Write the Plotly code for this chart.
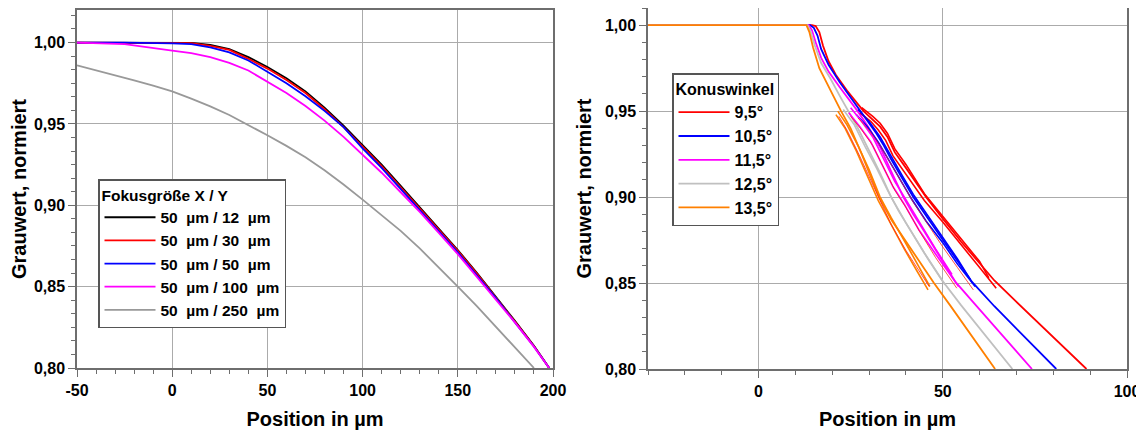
import plotly.graph_objects as go

# ---------------- Left chart data (Fokusgröße) ----------------
left_x = [-50, -25, 0, 10, 20, 30, 40, 50, 60, 70, 80, 90, 100, 110, 120, 130, 140, 150, 160, 170, 180, 190, 198]
y_12 = [1.000, 1.000, 1.000, 0.9998, 0.9985, 0.996, 0.991, 0.985, 0.978, 0.970, 0.960, 0.949, 0.937, 0.925, 0.912, 0.899, 0.886, 0.8725, 0.8585, 0.844, 0.829, 0.8137, 0.800]
y_30 = [1.000, 1.000, 1.000, 0.9997, 0.998, 0.9955, 0.990, 0.984, 0.977, 0.969, 0.959, 0.948, 0.936, 0.924, 0.911, 0.898, 0.885, 0.872, 0.858, 0.8435, 0.8285, 0.8135, 0.800]
y_50 = [1.000, 1.000, 0.9995, 0.999, 0.997, 0.994, 0.989, 0.982, 0.975, 0.967, 0.958, 0.948, 0.935, 0.923, 0.910, 0.897, 0.884, 0.871, 0.857, 0.843, 0.828, 0.8132, 0.800]
y_100 = [1.000, 0.999, 0.995, 0.9935, 0.991, 0.9875, 0.9828, 0.976, 0.969, 0.961, 0.952, 0.942, 0.931, 0.920, 0.908, 0.896, 0.883, 0.870, 0.856, 0.842, 0.828, 0.813, 0.800]
gray_x = [-50, -40, -30, -20, -10, 0, 10, 20, 30, 40, 50, 60, 70, 80, 90, 100, 110, 120, 130, 140, 150, 160, 170, 180, 190]
y_250 = [0.986, 0.983, 0.980, 0.9768, 0.9735, 0.970, 0.9655, 0.9608, 0.9555, 0.9495, 0.943, 0.9365, 0.9295, 0.9215, 0.9128, 0.9035, 0.894, 0.8843, 0.8735, 0.862, 0.850, 0.838, 0.8255, 0.813, 0.800]

left_names = ["50\u00a0\u00a0µm / 12\u00a0\u00a0µm", "50\u00a0\u00a0µm / 30\u00a0\u00a0µm", "50\u00a0\u00a0µm / 50\u00a0\u00a0µm",
              "50\u00a0\u00a0µm / 100\u00a0\u00a0µm", "50\u00a0\u00a0µm / 250\u00a0\u00a0µm"]
left_colors = ["#000000", "#ff0000", "#0000ff", "#ff00ff", "#999999"]

left_xticks = [-50, 0, 50, 100, 150, 200]
left_xlabels = ["-50", "0", "50", "100", "150", "200"]
yticks = [0.80, 0.85, 0.90, 0.95, 1.00]
ylabels = ["0,80", "0,85", "0,90", "0,95", "1,00"]

# ---------------- Right chart data (Konuswinkel) ----------------
r95_x = [-30, 12, 14.5, 15.5, 16.5, 17.5, 19, 21, 24, 28.5, 31, 33, 35, 37, 40, 45.5, 50, 55, 60, 64, 70, 75, 80, 85, 89]
r95_y = [1, 1, 1, 0.9995, 0.996, 0.988, 0.979, 0.971, 0.962, 0.950, 0.945, 0.941, 0.935, 0.926, 0.917, 0.900, 0.8875, 0.874, 0.8615, 0.8515, 0.839, 0.8287, 0.8184, 0.8082, 0.80]
r105_x = [-30, 12, 14, 15, 16, 17, 19, 22, 25, 27.6, 30, 32, 34, 36, 39, 42, 46, 50, 54, 58, 64, 70, 75, 80.8]
r105_y = [1, 1, 1, 0.9985, 0.994, 0.986, 0.977, 0.967, 0.958, 0.950, 0.943, 0.937, 0.930, 0.922, 0.911, 0.900, 0.8875, 0.875, 0.8625, 0.8505, 0.8365, 0.8235, 0.8125, 0.80]
r115_x = [-30, 12, 13.6, 14.5, 15.5, 17, 19, 22, 24.5, 26.9, 30, 33, 36, 39.3, 42, 45, 50, 53.5, 58, 64, 69, 74.2]
r115_y = [1, 1, 1, 0.997, 0.990, 0.981, 0.973, 0.964, 0.957, 0.950, 0.940, 0.929, 0.915, 0.900, 0.890, 0.880, 0.8625, 0.8505, 0.8395, 0.825, 0.8125, 0.80]
r125_x = [-30, 12, 13.3, 14.2, 15.3, 17, 19.5, 22, 24.4, 27, 30, 33, 36, 40, 45, 50, 55, 60, 64.5, 68.9]
r125_y = [1, 1, 1, 0.996, 0.988, 0.978, 0.969, 0.959, 0.950, 0.940, 0.927, 0.914, 0.900, 0.885, 0.8675, 0.851, 0.837, 0.8235, 0.8115, 0.80]
r135_x = [-30, 12, 13, 13.8, 14.8, 16.5, 18.5, 20.5, 22.4, 25, 28, 30.5, 32.7, 36, 40, 44, 47.6, 52, 56, 60, 64.2]
r135_y = [1, 1, 1, 0.996, 0.987, 0.975, 0.966, 0.958, 0.950, 0.940, 0.925, 0.912, 0.900, 0.887, 0.874, 0.861, 0.850, 0.837, 0.825, 0.8125, 0.80]

# replicate measurement bundles (mid range)
r95_b1_x = [28, 31, 33, 35, 37, 40, 45, 50, 55, 60, 62.5]
r95_b1_y = [0.952, 0.947, 0.943, 0.937, 0.928, 0.919, 0.902, 0.889, 0.876, 0.8625, 0.853]
r95_b2_x = [27.5, 30.5, 32.5, 34.5, 36.5, 39.5, 45, 50, 55, 60, 64.5]
r95_b2_y = [0.949, 0.944, 0.939, 0.933, 0.924, 0.915, 0.898, 0.8855, 0.8725, 0.859, 0.847]
r105_b1_x = [27, 30, 33, 36, 39, 42, 46, 50, 54, 57.5]
r105_b1_y = [0.951, 0.944, 0.935, 0.9235, 0.9125, 0.9015, 0.889, 0.8765, 0.864, 0.852]
r105_b2_x = [26.5, 29.5, 32.5, 35.5, 38.5, 41.5, 45.5, 50, 54, 58.8]
r105_b2_y = [0.948, 0.941, 0.932, 0.921, 0.910, 0.899, 0.886, 0.8735, 0.861, 0.848]
r115_b1_x = [25, 28, 31, 34, 37, 40, 44, 48, 52.5]
r115_b1_y = [0.952, 0.944, 0.935, 0.922, 0.909, 0.8985, 0.884, 0.870, 0.855]
r115_b2_x = [24.5, 27.5, 30.5, 33.5, 36.5, 39.5, 43.5, 48, 54.3]
r115_b2_y = [0.949, 0.941, 0.932, 0.919, 0.906, 0.896, 0.881, 0.867, 0.848]
r125_b1_x = [23, 26, 29, 32, 35, 38, 42, 46, 50.6]
r125_b1_y = [0.951, 0.942, 0.929, 0.917, 0.904, 0.892, 0.878, 0.864, 0.849]
r135_b1_x = [21.5, 24, 27, 30, 33, 36, 40, 43.5, 46.5]
r135_b1_y = [0.950, 0.942, 0.930, 0.916, 0.900, 0.888, 0.873, 0.860, 0.848]
r135_b2_x = [21, 23.5, 26.5, 29.5, 32.5, 35.5, 39.5, 43, 46]
r135_b2_y = [0.948, 0.940, 0.927, 0.913, 0.898, 0.886, 0.870, 0.857, 0.846]
# thin red fit lines over bundles
fit_o_x = [21.8, 24, 27, 30, 33, 36, 40, 43.5, 46.3]
fit_o_y = [0.947, 0.939, 0.926, 0.912, 0.897, 0.884, 0.869, 0.857, 0.848]
fit_m_x = [25, 28, 31, 34, 37, 40, 44, 48, 53.8]
fit_m_y = [0.947, 0.939, 0.930, 0.917, 0.904, 0.894, 0.879, 0.865, 0.847]
fit_b_x = [27, 30, 33, 36, 39, 42, 46, 50, 54, 58.3]
fit_b_y = [0.946, 0.939, 0.930, 0.919, 0.908, 0.897, 0.884, 0.871, 0.859, 0.846]

right_names = ["9,5°", "10,5°", "11,5°", "12,5°", "13,5°"]
right_colors = ["#ff0000", "#0000ff", "#ff00ff", "#c0c0c0", "#ff8000"]
right_xticks = [0, 50, 100]
right_xlabels = ["0", "50", "100"]

FONT = "Liberation Sans, Arial, sans-serif"
OFF = 8                      # default page margin of the html body
W, H = 1144 - OFF, 430 - OFF


def fx(px):
    return (px - OFF) / W


def fy(py):
    return 1 - (py - OFF) / H


fig = go.Figure()

for xs, ys, name, col in zip([left_x, left_x, left_x, left_x, gray_x],
                             [y_12, y_30, y_50, y_100, y_250], left_names, left_colors):
    fig.add_trace(go.Scatter(x=xs, y=ys, mode="lines", name=name, line=dict(color=col, width=1.8),
                             xaxis="x", yaxis="y", legend="legend"))

right_main = [(r95_x, r95_y), (r105_x, r105_y), (r115_x, r115_y), (r125_x, r125_y), (r135_x, r135_y)]
bundles = [
    (r95_b1_x, r95_b1_y, 0), (r95_b2_x, r95_b2_y, 0),
    (r105_b1_x, r105_b1_y, 1), (r105_b2_x, r105_b2_y, 1),
    (r115_b1_x, r115_b1_y, 2), (r115_b2_x, r115_b2_y, 2),
    (r125_b1_x, r125_b1_y, 3),
    (r135_b1_x, r135_b1_y, 4), (r135_b2_x, r135_b2_y, 4),
]
for (xs, ys), name, col in zip(right_main, right_names, right_colors):
    fig.add_trace(go.Scatter(x=xs, y=ys, mode="lines", name=name, line=dict(color=col, width=1.8),
                             xaxis="x2", yaxis="y2", legend="legend2"))
for xs, ys, ci in bundles:
    fig.add_trace(go.Scatter(x=xs, y=ys, mode="lines", showlegend=False, line=dict(color=right_colors[ci], width=1.6),
                             xaxis="x2", yaxis="y2", hoverinfo="skip"))
for xs, ys in [(fit_o_x, fit_o_y), (fit_m_x, fit_m_y), (fit_b_x, fit_b_y)]:
    fig.add_trace(go.Scatter(x=xs, y=ys, mode="lines", showlegend=False, line=dict(color="#ff2020", width=0.8),
                             xaxis="x2", yaxis="y2", hoverinfo="skip"))

tickfont = dict(family=FONT, size=16, color="#000000", weight="bold")
titlefont = dict(family=FONT, size=20, color="#000000", weight="bold")
axcommon = dict(showline=True, linecolor="#6e6e6e", linewidth=1.5, mirror=True,
                ticks="outside", ticklen=7, tickwidth=1.2, tickcolor="#6e6e6e",
                showgrid=True, gridcolor="#ababab", gridwidth=1, zeroline=False,
                tickfont=tickfont, automargin=False)

fig.update_layout(
    width=W, height=H, margin=dict(l=0, r=0, t=0, b=0, autoexpand=False),
    paper_bgcolor="white", plot_bgcolor="white", separators=",.",
    font=dict(family=FONT, color="#000000"),
    xaxis=dict(domain=[fx(77), fx(553)], range=[-50, 200], anchor="y",
               tickmode="array", tickvals=left_xticks, ticktext=left_xlabels,
               minor=dict(dtick=10, tick0=0, ticks="outside", ticklen=4, tickcolor="#6e6e6e", showgrid=False),
               title=dict(text="Position in µm", font=titlefont, standoff=14), **axcommon),
    yaxis=dict(domain=[fy(368), fy(10)], range=[0.80, 1.02], anchor="x",
               tickmode="array", tickvals=yticks, ticktext=ylabels,
               minor=dict(dtick=0.05 / 6, tick0=0.8, ticks="outside", ticklen=4, tickcolor="#6e6e6e", showgrid=False),
               title=dict(text="Grauwert, normiert", font=titlefont, standoff=8), **axcommon),
    xaxis2=dict(domain=[fx(648), fx(1127)], range=[-30, 100], anchor="y2",
                tickmode="array", tickvals=right_xticks, ticktext=right_xlabels,
                minor=dict(dtick=10, tick0=0, ticks="outside", ticklen=4, tickcolor="#6e6e6e", showgrid=False),
                title=dict(text="Position in µm", font=titlefont, standoff=14), **axcommon),
    yaxis2=dict(domain=[fy(369), fy(8)], range=[0.80, 1.01], anchor="x2",
                tickmode="array", tickvals=yticks, ticktext=ylabels,
                minor=dict(dtick=0.01, tick0=0.8, ticks="outside", ticklen=4, tickcolor="#6e6e6e", showgrid=False),
                title=dict(text="Grauwert, normiert", font=titlefont, standoff=8), **axcommon),
    legend=dict(x=fx(98), y=fy(179), xanchor="left", yanchor="top",
                bgcolor="white", bordercolor="#555555", borderwidth=1.5,
                font=dict(family=FONT, size=15.5, color="#000000", weight="bold"),
                title=dict(text="Fokusgröße X / Y", font=dict(family=FONT, size=15.5, color="#000000", weight="bold")),
                itemwidth=51, tracegroupgap=0),
    legend2=dict(x=fx(672), y=fy(73), xanchor="left", yanchor="top",
                 bgcolor="white", bordercolor="#555555", borderwidth=1.5,
                 font=dict(family=FONT, size=16, color="#000000", weight="bold"),
                 title=dict(text="Konuswinkel", font=dict(family=FONT, size=16, color="#000000", weight="bold")),
                 itemwidth=51, tracegroupgap=0),
)

fig.write_html("out.html")
